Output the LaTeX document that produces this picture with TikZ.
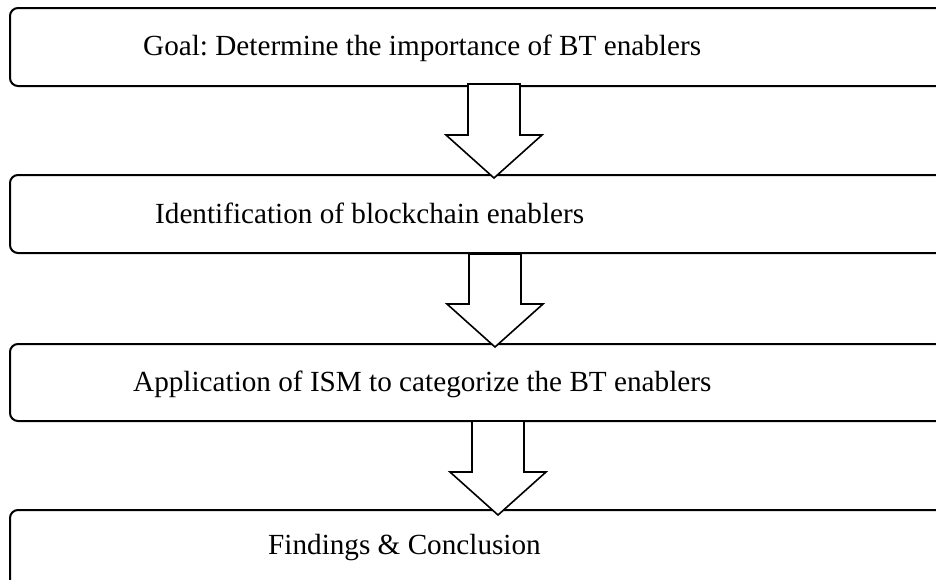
\documentclass[tikz,border=0pt]{standalone}
\usepackage{fontspec}
\setmainfont{Liberation Serif}
\usetikzlibrary{calc}
\frenchspacing
\tikzset{
  stagebox/.style={draw=black, line width=2pt, rounded corners=8pt, fill=white},
  stagetext/.style={anchor=base west, inner sep=0pt, font=\fontsize{29.2}{33}\selectfont},
  blockarr/.style={draw=black, line width=1.6pt, fill=white, line join=miter}
}
\newcommand\myblockarrow[2]{%
  \draw[blockarr] ($(#1)+(-26,0)$) -- ($(#1)+(26,0)$) -- ($(#2)+(26,-43)$) -- ($(#2)+(48,-43)$) -- (#2) -- ($(#2)+(-48,-43)$) -- ($(#2)+(-26,-43)$) -- cycle;}
\begin{document}
\begin{tikzpicture}[x=1pt,y=-1pt]
\useasboundingbox (0,0) rectangle (936,579);
\clip (0,0) rectangle (936,579);
\fill[white] (0,0) rectangle (936,579);
% boxes
\draw[stagebox] (10,8) rectangle (950,86);
\draw[stagebox] (10,175) rectangle (950,253);
\draw[stagebox] (10,344) rectangle (950,421);
\draw[stagebox] (10,510) rectangle (950,630);
% texts
\node[stagetext] (t1) at (143,55) {Goal: Determine the importance of BT enablers};
\node[stagetext] (t2) at (155,223) {Identification of blockchain enablers};
\node[stagetext] (t3) at (133,391) {Application of ISM to categorize the BT enablers};
\node[stagetext] (t4) at (268,554) {Findings \& Conclusion};
% arrows
\coordinate (a1top) at (494,84);  \coordinate (a1tip) at (494,178);
\coordinate (a2top) at (495,254); \coordinate (a2tip) at (495,347);
\coordinate (a3top) at (498,421); \coordinate (a3tip) at (498,515);
\myblockarrow{a1top}{a1tip}
\myblockarrow{a2top}{a2tip}
\myblockarrow{a3top}{a3tip}
\end{tikzpicture}
\end{document}
